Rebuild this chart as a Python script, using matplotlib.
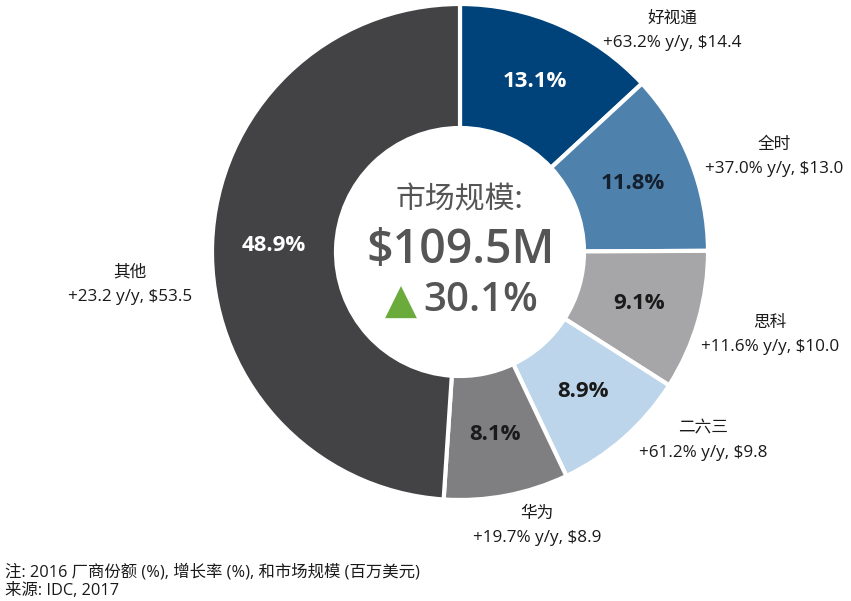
import matplotlib
matplotlib.use("Agg")
import matplotlib.pyplot as plt
import numpy as np

# ---- data ----
vendors = ["好视通", "全时", "思科", "二六三", "华为", "其他"]
shares = [13.1, 11.8, 9.1, 8.9, 8.1, 48.9]
growth = ["+63.2%", "+37.0%", "+11.6%", "+61.2%", "+19.7%", "+23.2"]
revenue = [14.4, 13.0, 10.0, 9.8, 8.9, 53.5]
market_size = 109.5
market_growth = 30.1

# ---- styles ----
colors = ["#00427a", "#4f81ad", "#a6a6a8", "#bdd5ea", "#7f7f81", "#434345"]
pct_colors = ["white", "#14202e", "#1a1a1a", "#1a1a1a", "#1a1a1a", "white"]
FONTS = ["Open Sans", "Noto Sans CJK SC", "DejaVu Sans"]
CJK = ["Noto Sans CJK SC", "DejaVu Sans"]

W, H = 851, 601
fig = plt.figure(figsize=(W / 100, H / 100), dpi=100)
cx, cy, R = 460, 252, 248
ax = fig.add_axes([(cx - R) / W, (H - cy - R) / H, 2 * R / W, 2 * R / H])

wedges, _ = ax.pie(shares, colors=colors, startangle=90, counterclock=False,
                   radius=1.0,
                   wedgeprops=dict(width=0.5, edgecolor="white", linewidth=3))
ax.set_xlim(-1, 1)
ax.set_ylim(-1, 1)
ax.axis("off")

for w, s, c in zip(wedges, shares, pct_colors):
    mid = np.deg2rad((w.theta1 + w.theta2) / 2)
    r = 0.75
    ax.text(r * np.cos(mid), r * np.sin(mid), f"{s:.1f}%", ha="center", va="center",
            color=c, fontsize=16, fontweight="bold", family=FONTS)

def fx(px):
    return px / W

def fy(py):
    return 1 - py / H

# outer labels: pixel positions (name center)
label_pos = [(672, 18), (774, 144), (770, 322), (703, 428), (537, 513), (130, 272)]
for (px, py), name, g, rev in zip(label_pos, vendors, growth, revenue):
    fig.text(fx(px), fy(py), name, ha="center", va="center", fontsize=12,
             color="#1a1a1a", family=CJK)
    fig.text(fx(px), fy(py + 25), f"{g} y/y, ${rev:.1f}", ha="center", va="center",
             fontsize=12.3, color="#1a1a1a", family=FONTS)

# center text
fig.text(fx(459), fy(200), "市场规模:", ha="center", va="center", fontsize=21.5,
         color="#555555", family=CJK)
fig.text(fx(461), fy(250), f"${market_size:.1f}M", ha="center", va="center",
         fontsize=33.5, color="#555555", fontweight="semibold", family=FONTS)
fig.text(fx(401), fy(302), "▲", ha="center", va="center", fontsize=30,
         color="#6aab3c", family=["DejaVu Sans"])
fig.text(fx(481), fy(301), f"{market_growth:.1f}%", ha="center", va="center",
         fontsize=29, color="#555555", fontweight="semibold", family=FONTS)

# footnote
fig.text(fx(5), fy(572), "注: 2016 厂商份额 (%), 增长率 (%), 和市场规模 (百万美元)",
         ha="left", va="center", fontsize=11.8, color="#1a1a1a", family=FONTS)
fig.text(fx(5), fy(591), "来源: IDC, 2017", ha="left", va="center", fontsize=11.8,
         color="#1a1a1a", family=FONTS)

fig.savefig("out.png", dpi=100, facecolor="white")
